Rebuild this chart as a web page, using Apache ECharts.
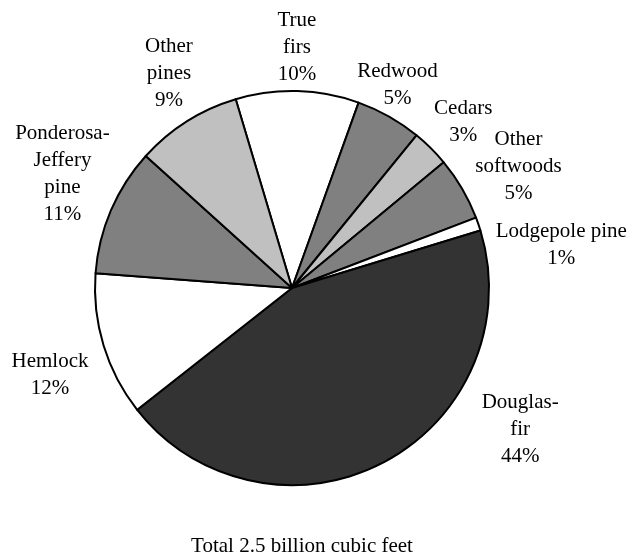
<!DOCTYPE html>
<html>
<head>
<meta charset="utf-8">
<script src="https://cdn.jsdelivr.net/npm/echarts@6/dist/echarts.min.js"></script>
<style>
html,body{margin:0;padding:0;background:#fff;}
#chart{width:639px;height:560px;}
</style>
</head>
<body>
<div id="chart"></div>
<script>
// Data (percent of total softwood volume)
const names = ['True\nfirs', 'Redwood', 'Cedars', 'Other\nsoftwoods', 'Lodgepole pine', 'Douglas-\nfir', 'Hemlock', 'Ponderosa-\nJeffery\npine', 'Other\npines'];
const values = [10.1, 5.4, 3.1, 5.2, 1.1, 44.1, 11.8, 10.5, 8.7];
const totalLabel = 'Total 2.5 billion cubic feet';

// Styling (kept separate from data)
const fills = ['#ffffff', '#808080', '#c0c0c0', '#808080', '#ffffff', '#333333', '#ffffff', '#808080', '#c0c0c0'];
const labelNudge = [[-2, 12], [-19, 17], [-7, 14], [8, 6], [30, 39], [111, -83], [0, 13], [3, -14], [12, -1]];

const total = values.reduce((a, b) => a + b, 0);
const center = [292, 288];
const FONT = '"Liberation Serif", "Times New Roman", serif';

const chart = echarts.init(document.getElementById('chart'), null, {renderer: 'canvas'});
chart.setOption({
  animation: false,
  backgroundColor: '#ffffff',
  title: {
    text: totalLabel,
    left: 297,
    top: 531,
    textAlign: 'center',
    textStyle: {fontFamily: FONT, fontSize: 21, fontWeight: 'normal', color: '#000'}
  },
  series: [
    {
      type: 'pie',
      center: center,
      radius: 197,
      startAngle: 106.6,
      clockwise: true,
      silent: true,
      label: {show: false},
      labelLine: {show: false},
      itemStyle: {borderColor: '#000', borderWidth: 2},
      data: values.map((v, i) => ({name: names[i], value: v, itemStyle: {color: fills[i]}}))
    },
    {
      type: 'pie',
      center: center,
      radius: [240, 260],
      startAngle: 106.6,
      clockwise: true,
      silent: true,
      avoidLabelOverlap: false,
      labelLayout: {hideOverlap: false},
      itemStyle: {color: 'rgba(0,0,0,0)', borderWidth: 0},
      labelLine: {show: false},
      label: {
        show: true,
        position: 'inside',
        fontFamily: FONT,
        fontSize: 21,
        lineHeight: 27,
        color: '#000',
        align: 'center',
        formatter: p => p.name + '\n' + Math.round(p.value * 100 / total) + '%'
      },
      data: values.map((v, i) => ({name: names[i], value: v, label: {offset: labelNudge[i]}}))
    }
  ]
});
</script>
</body>
</html>
